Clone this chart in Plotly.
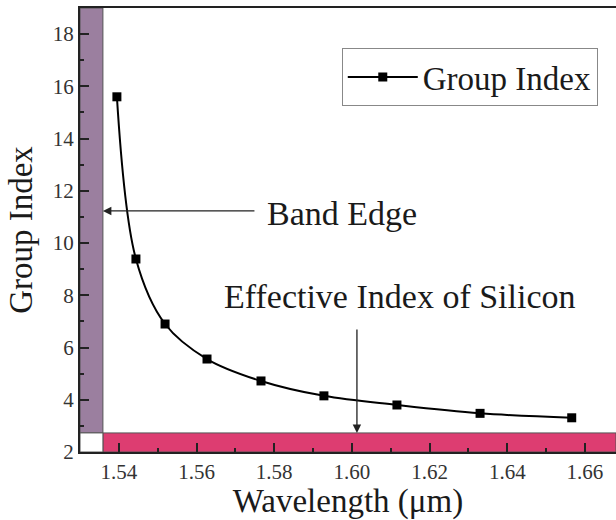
import plotly.graph_objects as go

wavelength = [1.5395, 1.5444, 1.5519, 1.5627, 1.5766, 1.5928, 1.6116, 1.6330, 1.6566]
group_index = [15.6, 9.39, 6.9, 5.56, 4.72, 4.15, 3.80, 3.48, 3.31]

x_ticks = [1.54, 1.56, 1.58, 1.60, 1.62, 1.64, 1.66]
x_tick_labels = ["1.54", "1.56", "1.58", "1.60", "1.62", "1.64", "1.66"]
y_ticks = [2, 4, 6, 8, 10, 12, 14, 16, 18]

band_edge_x = 1.5359
silicon_index = 2.73
band_arrow_y = 11.23
silicon_arrow_x = 1.6013

FONT = "Liberation Serif"
PURPLE = "#9b7f9f"
PINK = "#dd3d71"
TXT = "#1a1a1a"

fig = go.Figure()
fig.add_trace(go.Scatter(
    x=wavelength, y=group_index, mode="lines+markers", name="Group Index",
    line=dict(color="black", width=2, shape="spline", smoothing=1.0),
    marker=dict(symbol="square", size=9, color="black"),
))

shapes = [
    dict(type="rect", xref="x", yref="y", x0=1.53, x1=band_edge_x, y0=silicon_index, y1=19,
         fillcolor=PURPLE, line=dict(color="#555", width=1), layer="below"),
    dict(type="rect", xref="x", yref="y", x0=band_edge_x, x1=1.668, y0=2, y1=silicon_index,
         fillcolor=PINK, line=dict(color="#555", width=1), layer="below"),
    dict(type="rect", xref="x", yref="y", x0=1.53, x1=band_edge_x, y0=2, y1=silicon_index,
         fillcolor="white", line=dict(color="#555", width=1), layer="below"),
]

annotations = [
    dict(x=band_edge_x, y=band_arrow_y, ax=1.5753, ay=band_arrow_y, xref="x", yref="y",
         axref="x", ayref="y", showarrow=True, arrowhead=2, arrowsize=1.3, arrowwidth=1.3,
         arrowcolor="#222", text=""),
    dict(x=1.5776, y=11.15, xref="x", yref="y", text="Band Edge", showarrow=False,
         xanchor="left", font=dict(family=FONT, size=34, color=TXT)),
    dict(x=silicon_arrow_x, y=silicon_index, ax=silicon_arrow_x, ay=6.75, xref="x", yref="y",
         axref="x", ayref="y", showarrow=True, arrowhead=2, arrowsize=1.3, arrowwidth=1.3,
         arrowcolor="#222", text=""),
    dict(x=1.6124, y=7.95, xref="x", yref="y", text="Effective Index of Silicon", showarrow=False,
         xanchor="center", font=dict(family=FONT, size=34, color=TXT)),
]

fig.update_layout(
    width=616, height=520,
    margin=dict(l=80, r=0, t=8, b=68),
    paper_bgcolor="white", plot_bgcolor="white",
    font=dict(family=FONT, color=TXT),
    shapes=shapes, annotations=annotations,
    showlegend=True,
    legend=dict(x=0.966, y=0.91, xanchor="right", yanchor="top",
                bordercolor="#888", borderwidth=1, bgcolor="white",
                font=dict(family=FONT, size=33, color=TXT),
                itemwidth=70),
    xaxis=dict(range=[1.53, 1.668], tickvals=x_ticks, ticktext=x_tick_labels,
               ticks="inside", ticklen=9, tickwidth=1.5, tickcolor="#222",
               showline=True, linecolor="#222", linewidth=2, mirror=True,
               showgrid=False, zeroline=False,
               tickfont=dict(family=FONT, size=21, color="#333"),
               minor=dict(ticks="inside", ticklen=4, tickcolor="#222", dtick=0.01, showgrid=False),
               title=dict(text="Wavelength (μm)", font=dict(family=FONT, size=33, color=TXT), standoff=7)),
    yaxis=dict(range=[2, 19], tickvals=y_ticks,
               ticks="inside", ticklen=9, tickwidth=1.5, tickcolor="#222",
               showline=True, linecolor="#222", linewidth=2,
               showgrid=False, zeroline=False,
               tickfont=dict(family=FONT, size=21, color="#333"),
               minor=dict(ticks="inside", ticklen=4, tickcolor="#222", dtick=1, showgrid=False),
               title=dict(text="Group Index", font=dict(family=FONT, size=33, color=TXT), standoff=10)),
)

fig.write_html("out.html")
